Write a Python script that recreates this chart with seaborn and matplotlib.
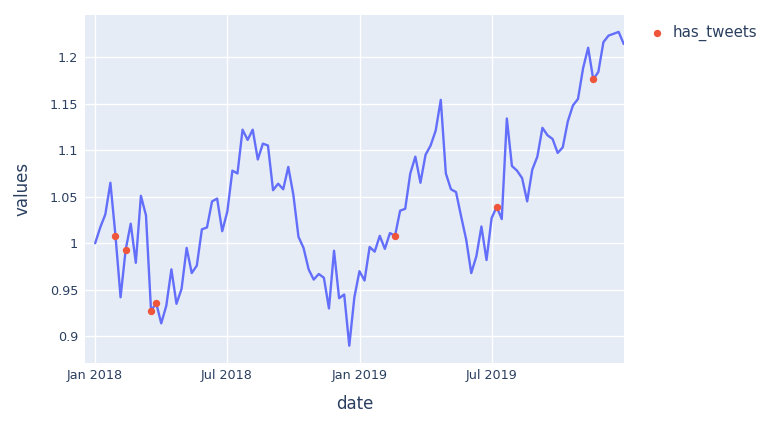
import matplotlib
matplotlib.use("Agg")
import matplotlib.pyplot as plt
import matplotlib.dates as mdates
from matplotlib.ticker import FixedLocator, FuncFormatter
import seaborn as sns
import pandas as pd
import numpy as np

# ---- data ----
start_date = "2018-01-01"
n_weeks = 105
values = [
    1.000, 1.017, 1.031, 1.065, 1.008, 0.942, 0.993, 1.021, 0.979, 1.051,
    1.030, 0.927, 0.936, 0.914, 0.933, 0.972, 0.935, 0.951, 0.995, 0.968,
    0.976, 1.015, 1.017, 1.045, 1.048, 1.013, 1.034, 1.078, 1.075, 1.122,
    1.111, 1.122, 1.090, 1.107, 1.105, 1.057, 1.064, 1.058, 1.082, 1.052,
    1.007, 0.995, 0.972, 0.961, 0.967, 0.963, 0.930, 0.992, 0.941, 0.945,
    0.890, 0.942, 0.970, 0.960, 0.996, 0.991, 1.008, 0.994, 1.011, 1.008,
    1.035, 1.037, 1.075, 1.093, 1.065, 1.095, 1.105, 1.121, 1.154, 1.075,
    1.058, 1.055, 1.029, 1.004, 0.968, 0.986, 1.018, 0.982, 1.027, 1.039,
    1.026, 1.134, 1.083, 1.078, 1.070, 1.045, 1.079, 1.093, 1.124, 1.116,
    1.112, 1.097, 1.103, 1.131, 1.148, 1.155, 1.188, 1.210, 1.176, 1.184,
    1.216, 1.223, 1.225, 1.227, 1.214,
]
tweet_weeks = [4, 6, 11, 12, 59, 79, 98]
y_ticks = [0.9, 0.95, 1.0, 1.05, 1.1, 1.15, 1.2]
legend_label = "has_tweets"

dates = pd.date_range(start_date, periods=n_weeks, freq="7D")
df = pd.DataFrame({"date": dates, "values": values})
df["has_tweets"] = False
df.loc[tweet_weeks, "has_tweets"] = True
tw = df[df["has_tweets"]]

# ---- style ----
sns.set_theme(style="white")
plt.rcParams["font.family"] = ["DejaVu Sans"]
txt = "#2a3f5f"

fig = plt.figure(figsize=(7.65, 4.3), dpi=100)
ax = fig.add_axes([0.1111, 0.1547, 0.7052, 0.8105])
ax.set_facecolor("#E5ECF6")
for s in ax.spines.values():
    s.set_visible(False)

sns.lineplot(data=df, x="date", y="values", ax=ax, color="#636EFA",
             linewidth=1.7, legend=False, zorder=3)
sns.scatterplot(data=tw, x="date", y="values", ax=ax, color="#EF553B",
                s=28, linewidth=0, zorder=4, label=legend_label)

ax.set_xlim(pd.Timestamp("2017-12-18"), pd.Timestamp("2019-12-31"))
ax.set_ylim(0.8709, 1.2452)

ax.xaxis.set_major_locator(mdates.MonthLocator(bymonth=[1, 7]))
ax.xaxis.set_major_formatter(mdates.DateFormatter("%b %Y"))
ax.yaxis.set_major_locator(FixedLocator(y_ticks))
ax.yaxis.set_major_formatter(FuncFormatter(lambda v, p: f"{v:g}"))

ax.grid(True, color="white", linewidth=1)
ax.set_axisbelow(True)
ax.tick_params(axis="both", length=0, labelsize=9.2, labelcolor=txt)
ax.tick_params(axis="y", pad=5)
ax.tick_params(axis="x", pad=4)

ax.set_xlabel("date", fontsize=12, color=txt)
ax.set_ylabel("values", fontsize=12, color=txt)
ax.xaxis.set_label_coords(0.5, -0.09)
ax.yaxis.set_label_coords(-0.1, 0.5)

leg = ax.legend(loc="upper left", bbox_to_anchor=(1.036, 0.997), frameon=False,
                fontsize=10.8, handlelength=0.6, handletextpad=0.7,
                borderaxespad=0.3, borderpad=0.3, markerscale=1.0)
for t in leg.get_texts():
    t.set_color(txt)

fig.savefig("out.png", dpi=100)
